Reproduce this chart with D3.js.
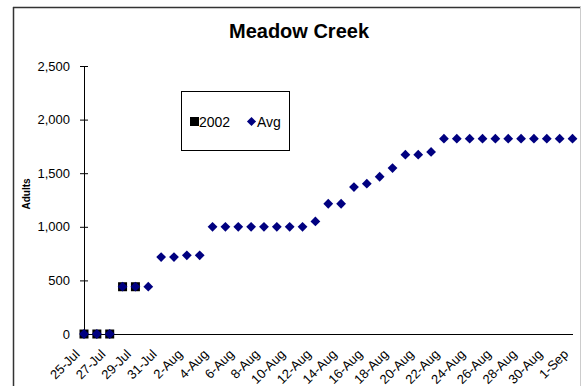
<!DOCTYPE html>
<html>
<head>
<meta charset="utf-8">
<script src="https://cdn.jsdelivr.net/npm/d3@7"></script>
<style>
  html, body { margin: 0; padding: 0; background: #fff; }
  svg { display: block; font-family: Arial, "Liberation Sans", sans-serif; }
</style>
</head>
<body>
<svg id="chart" width="581" height="386"></svg>
<script>
// ---- data ----
const dates = ["25-Jul","26-Jul","27-Jul","28-Jul","29-Jul","30-Jul","31-Jul",
  "1-Aug","2-Aug","3-Aug","4-Aug","5-Aug","6-Aug","7-Aug","8-Aug","9-Aug","10-Aug",
  "11-Aug","12-Aug","13-Aug","14-Aug","15-Aug","16-Aug","17-Aug","18-Aug","19-Aug",
  "20-Aug","21-Aug","22-Aug","23-Aug","24-Aug","25-Aug","26-Aug","27-Aug","28-Aug",
  "29-Aug","30-Aug","31-Aug","1-Sep"];
const avgValues = [0,0,0,441,441,441,718,718,734,734,
  1000,1000,1000,1000,1000,1000,1000,1000,1050,1215,
  1215,1371,1402,1467,1548,1673,1673,1698,1822,1822,
  1822,1822,1822,1822,1822,1822,1822,1822,1822];
const values2002 = [0,0,0,441,441];
const xTickLabels = ["25-Jul","27-Jul","29-Jul","31-Jul","2-Aug","4-Aug","6-Aug","8-Aug",
  "10-Aug","12-Aug","14-Aug","16-Aug","18-Aug","20-Aug","22-Aug","24-Aug","26-Aug",
  "28-Aug","30-Aug","1-Sep"];
const yTicks = [0,500,1000,1500,2000,2500];
const title = "Meadow Creek";
const yTitle = "Adults";
const seriesNames = ["2002","Avg"];

// ---- drawing ----
const svg = d3.select("#chart");
const x = d3.scalePoint().domain(dates).range([84, 572.5]);
const y = d3.scaleLinear().domain([0, 2500]).range([334, 66]);

// frame
svg.append("line").attr("x1",13.5).attr("x2",13.5).attr("y1",7).attr("y2",400).attr("stroke","#333").attr("stroke-width",1.5);
svg.append("line").attr("x1",13).attr("x2",581).attr("y1",7.5).attr("y2",7.5).attr("stroke","#333").attr("stroke-width",1.5);
svg.append("line").attr("x1",580.5).attr("x2",580.5).attr("y1",7).attr("y2",400).attr("stroke","#ccc").attr("stroke-width",1);

// title
svg.append("text").attr("x",299).attr("y",38).attr("text-anchor","middle")
  .attr("font-size",20).attr("font-weight","bold").text(title);

// y axis
const yAxis = svg.append("g").attr("transform","translate(84,0)")
  .call(d3.axisLeft(y).tickValues(yTicks).tickFormat(d3.format(",")).tickSizeInner(4).tickSizeOuter(0).tickPadding(10));
yAxis.select(".domain").attr("stroke","#000");
yAxis.selectAll(".tick line").attr("x1",4).attr("x2",-4).attr("stroke","#000");
yAxis.selectAll(".tick text").attr("font-size",13).attr("font-family","Arial, 'Liberation Sans', sans-serif").attr("fill","#000");

// x axis
const xAxis = svg.append("g").attr("transform","translate(0,334)")
  .call(d3.axisBottom(x).tickValues(xTickLabels).tickSize(0).tickSizeOuter(0));
xAxis.select(".domain").attr("stroke","#000");
xAxis.selectAll(".tick text")
  .attr("font-size",13).attr("font-family","Arial, 'Liberation Sans', sans-serif").attr("fill","#000")
  .attr("text-anchor","end").attr("y",0).attr("dy",0)
  .attr("transform","translate(-4,21) rotate(-45)");

// y title
svg.append("text").attr("transform","translate(30,194) rotate(-90)")
  .attr("text-anchor","middle").attr("font-size",10).attr("font-weight","bold").text(yTitle);

// series 2002 (squares)
const sq = 9;
svg.append("g").selectAll("rect").data(values2002).join("rect")
  .attr("x",(d,i)=>x(dates[i])-sq/2).attr("y",d=>y(d)-sq/2)
  .attr("width",sq).attr("height",sq).attr("fill","#000");

// series Avg (diamonds)
svg.append("g").selectAll("path").data(avgValues).join("path")
  .attr("transform",(d,i)=>`translate(${x(dates[i])},${y(d)}) rotate(45)`)
  .attr("d", d3.symbol().type(d3.symbolSquare).size(48)())
  .attr("fill","#000080");

// legend
const lg = svg.append("g");
lg.append("rect").attr("x",181.5).attr("y",91.5).attr("width",108).attr("height",59)
  .attr("fill","#fff").attr("stroke","#000").attr("stroke-width",1);
lg.append("rect").attr("x",190).attr("y",117).attr("width",9).attr("height",9).attr("fill","#000");
lg.append("text").attr("x",199).attr("y",126.5).attr("font-size",14).text(seriesNames[0]);
lg.append("path").attr("transform","translate(251.5,121.5) rotate(45)")
  .attr("d", d3.symbol().type(d3.symbolSquare).size(42)()).attr("fill","#000080");
lg.append("text").attr("x",257).attr("y",126.5).attr("font-size",14).text(seriesNames[1]);
</script>
</body>
</html>
